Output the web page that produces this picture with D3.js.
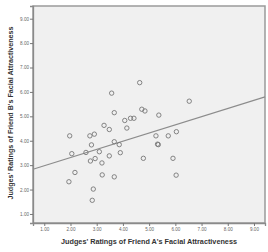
<!DOCTYPE html>
<html>
<head>
<meta charset="UTF-8">
<script src="https://d3js.org/d3.v7.min.js"></script>
<style>
  body { margin: 0; background: #fff; }
  svg { display: block; font-family: "Liberation Sans", Arial, sans-serif; }
</style>
</head>
<body>
<svg id="chart" width="268" height="252"></svg>
<script>
// ratings of friend A (x) and friend B (y)
var friendA = [3.57, 3.67, 3.28, 3.48, 4.07, 4.29, 4.42, 4.15, 1.97, 2.74,
               2.91, 2.80, 3.67, 3.86, 2.05, 2.59, 3.10, 2.76, 2.94, 3.20,
               3.48, 3.90, 2.17, 3.21, 3.67, 1.94, 2.87, 2.83, 4.64, 6.53,
               4.72, 4.84, 5.37, 5.26, 5.73, 6.04, 5.32, 5.35, 4.78, 5.91, 6.03];
var friendB = [5.95, 5.15, 4.63, 4.46, 4.83, 4.92, 4.92, 4.52, 4.20, 4.20,
               4.27, 3.83, 3.96, 3.84, 3.47, 3.52, 3.55, 3.17, 3.27, 3.09,
               3.38, 3.51, 2.70, 2.60, 2.52, 2.32, 2.02, 1.56, 6.38, 5.62,
               5.29, 5.22, 5.05, 4.20, 4.20, 4.37, 3.86, 3.84, 3.28, 3.28, 2.59];
var xTicks = [1, 2, 3, 4, 5, 6, 7, 8, 9];
var yTicks = [1, 2, 3, 4, 5, 6, 7, 8, 9];
var fitIntercept = 2.64;
var fitSlope = 0.335;

var svg = d3.select("#chart");
var margin = {top: 6, right: 3, bottom: 29, left: 33};
var width = 268, height = 252;

var xScale = d3.scaleLinear().domain([0.57, 9.42]).range([margin.left, width - margin.right]);
var yScale = d3.scaleLinear().domain([0.63, 9.52]).range([height - margin.bottom, margin.top]);

// plot area
svg.append("rect")
  .attr("x", margin.left).attr("y", margin.top)
  .attr("width", width - margin.left - margin.right)
  .attr("height", height - margin.top - margin.bottom)
  .style("fill", "#f0f0f0")
  .style("stroke", "#9a9a9a")
  .style("stroke-width", 1.5);

var leftAxis = d3.axisLeft(yScale).tickValues(yTicks).tickSize(3).tickPadding(1).tickFormat(d3.format(".2f"));
var gy = svg.append("g").attr("transform", "translate(" + margin.left + ",0)").call(leftAxis);
var bottomAxis = d3.axisBottom(xScale).tickValues(xTicks).tickSize(3).tickPadding(2).tickFormat(d3.format(".2f"));
var gx = svg.append("g").attr("transform", "translate(0," + (height - margin.bottom) + ")").call(bottomAxis);

[gx, gy].forEach(function(g) {
  g.select(".domain").style("stroke", "#8a8a8a").style("stroke-width", 1.3);
  g.selectAll(".tick line").style("stroke", "#777");
  g.selectAll(".tick text").style("font-size", "4.6px").style("fill", "#666");
});

// fit line
var x0 = xScale.domain()[0], x1 = xScale.domain()[1];
svg.append("line")
  .attr("x1", xScale(x0)).attr("y1", yScale(fitIntercept + fitSlope * x0))
  .attr("x2", xScale(x1)).attr("y2", yScale(fitIntercept + fitSlope * x1))
  .style("stroke", "#8c8c8c")
  .style("stroke-width", 1.2);

// points
friendA.forEach(function(d, i) {
  svg.append("circle")
    .attr("cx", xScale(d))
    .attr("cy", yScale(friendB[i]))
    .attr("r", 2.2)
    .style("fill", "none")
    .style("stroke", "#777")
    .style("stroke-width", 0.9);
});

// axis titles
svg.append("text")
  .attr("x", 149).attr("y", 244)
  .attr("text-anchor", "middle")
  .attr("textLength", 176).attr("lengthAdjust", "spacingAndGlyphs")
  .style("font-size", "7px").style("font-weight", "bold").style("fill", "#333")
  .text("Judges' Ratings of Friend A's Facial Attractiveness");

svg.append("text")
  .attr("transform", "translate(13,113) rotate(-90)")
  .attr("text-anchor", "middle")
  .attr("textLength", 173).attr("lengthAdjust", "spacingAndGlyphs")
  .style("font-size", "7px").style("font-weight", "bold").style("fill", "#333")
  .text("Judges' Ratings of Friend B's Facial Attractiveness");
</script>
</body>
</html>
